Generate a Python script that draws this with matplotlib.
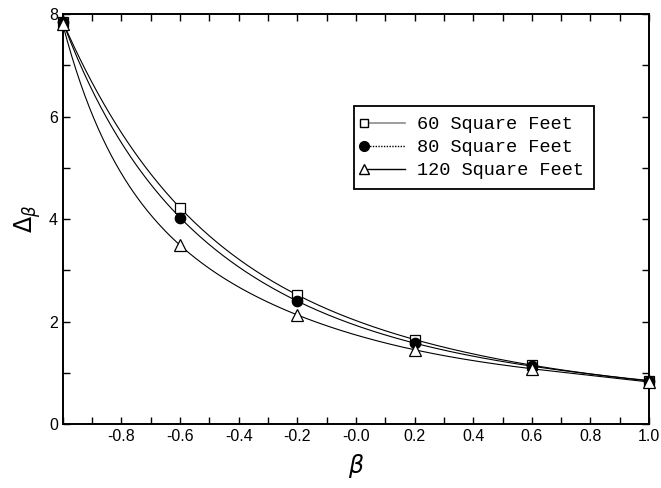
import numpy as np
import matplotlib
matplotlib.use("Agg")
import matplotlib.pyplot as plt
from matplotlib.lines import Line2D
from matplotlib.legend_handler import HandlerLine2D

beta = [-1.0, -0.6, -0.2, 0.2, 0.6, 1.0]
delta_60 = [7.85, 4.22, 2.52, 1.65, 1.15, 0.85]
delta_80 = [7.85, 4.03, 2.40, 1.58, 1.13, 0.84]
delta_120 = [7.80, 3.49, 2.13, 1.45, 1.08, 0.82]
labels = ["60 Square Feet", "80 Square Feet", "120 Square Feet"]
xtick_vals = [-0.8, -0.6, -0.4, -0.2, 0.0, 0.2, 0.4, 0.6, 0.8, 1.0]
xtick_labels = ["-0.8", "-0.6", "-0.4", "-0.2", "-0.0", "0.2", "0.4", "0.6", "0.8", "1.0"]
ytick_vals = [0, 2, 4, 6, 8]

plt.rcParams['font.family'] = ['Liberation Sans', 'DejaVu Sans']

fig = plt.figure(figsize=(6.61, 4.88), dpi=100)
ax = fig.add_axes([0.095, 0.131, 0.887, 0.840])

xs = np.linspace(-1, 1, 400)
series = [delta_60, delta_80, delta_120]
markers = [dict(marker='s', mfc='white', mec='black', ms=7),
           dict(marker='o', mfc='black', mec='black', ms=7.5),
           dict(marker='^', mfc='white', mec='black', ms=8)]
for vals, mk in zip(series, markers):
    coef = np.polyfit(beta, np.log(vals), 5)
    ax.plot(xs, np.exp(np.polyval(coef, xs)), color='black', lw=0.8)
    ax.plot(beta, vals, linestyle='none', clip_on=False, zorder=5, mew=0.9, **mk)

ax.set_xlim(-1, 1)
ax.set_ylim(0, 8)
ax.set_xticks(xtick_vals)
ax.set_xticklabels(xtick_labels)
ax.set_xticks(np.round(np.arange(-1.0, 1.01, 0.1), 2), minor=True)
ax.set_yticks(ytick_vals)
ax.set_yticks(range(0, 9), minor=True)
ax.tick_params(which='both', direction='in', top=True, right=True, labelsize=11.5)
ax.tick_params(which='major', length=5, width=1)
ax.tick_params(which='minor', length=5, width=1)
for s in ax.spines.values():
    s.set_linewidth(1.4)

ax.set_xlabel(r'$\beta$', fontsize=17, labelpad=6)
ax.set_ylabel(r'$\Delta_\beta$', fontsize=17, labelpad=4)


class LeftMarker(HandlerLine2D):
    def create_artists(self, legend, orig_handle, xdescent, ydescent,
                       width, height, fontsize, trans):
        arts = super().create_artists(legend, orig_handle, xdescent, ydescent,
                                      width, height, fontsize, trans)
        for a in arts:
            a.set_markevery([0])
        return arts


handles = [
    Line2D([], [], color='0.55', lw=1.2, ls='-', marker='s', mfc='white', mec='black', ms=6),
    Line2D([], [], color='black', lw=1.0, ls=(0, (1, 1)), marker='o', mfc='black', mec='black', ms=7),
    Line2D([], [], color='black', lw=1.0, ls='-', marker='^', mfc='white', mec='black', ms=7),
]
leg = ax.legend(handles, labels, loc='upper left', bbox_to_anchor=(0.497, 0.776),
                prop={'family': 'Liberation Mono', 'size': 13.4}, frameon=True,
                fancybox=False, edgecolor='black', framealpha=1,
                shadow=False, numpoints=1,
                handlelength=2.2, handletextpad=0.6, borderpad=0.55,
                labelspacing=0.32, borderaxespad=0,
                handler_map={Line2D: LeftMarker(numpoints=1)})
leg.get_frame().set_linewidth(1.3)

fig.savefig('out.png', dpi=100)
